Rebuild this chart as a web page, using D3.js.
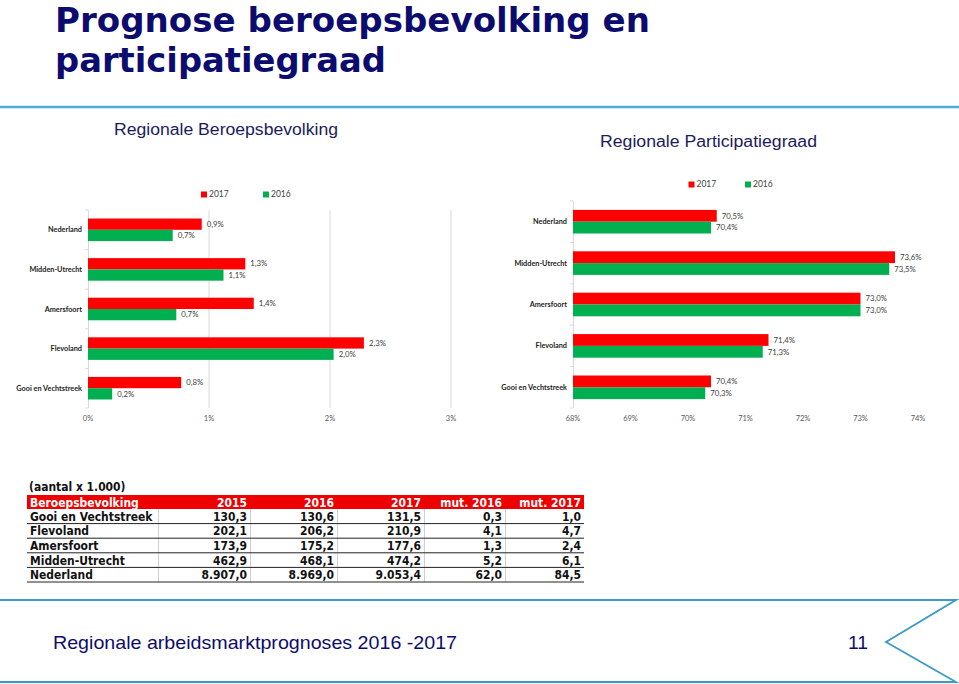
<!DOCTYPE html>
<html><head><meta charset="utf-8">
<script src="https://cdn.jsdelivr.net/npm/d3@7"></script>
<style>
html,body{margin:0;padding:0;background:#fff;}
svg{display:block;}
</style></head>
<body>
<svg id="c" width="959" height="684"></svg>
<script>
// ---------- data ----------
const regions = ["Nederland","Midden-Utrecht","Amersfoort","Flevoland","Gooi en Vechtstreek"];
const seriesNames = ["2017","2016"];
const growth2017 = [0.94, 1.30, 1.37, 2.28, 0.77];
const growth2016 = [0.70, 1.12, 0.73, 2.03, 0.20];
const partic2017 = [70.5, 73.6, 73.0, 71.4, 70.4];
const partic2016 = [70.4, 73.5, 73.0, 71.3, 70.3];
const growthTicks = [0, 1, 2, 3];
const particTicks = [68, 69, 70, 71, 72, 73, 74];

const tableHeader = ["Beroepsbevolking","2015","2016","2017","mut. 2016","mut. 2017"];
const tableRegions = ["Gooi en Vechtstreek","Flevoland","Amersfoort","Midden-Utrecht","Nederland"];
const labour2015 = [130.3, 202.1, 173.9, 462.9, 8907.0];
const labour2016 = [130.6, 206.2, 175.2, 468.1, 8969.0];
const labour2017 = [131.5, 210.9, 177.6, 474.2, 9053.4];
const mut2016 = [0.3, 4.1, 1.3, 5.2, 62.0];
const mut2017 = [1.0, 4.7, 2.4, 6.1, 84.5];

// ---------- setup ----------
const nl = d3.formatLocale({decimal: ",", thousands: ".", grouping: [3], currency: ["€", ""]});
const fmtNum = nl.format(",.1f");
const fmtPct = v => nl.format(".1f")(v) + "%";
const RED = "#ff0000", GREEN = "#00b050", NAVY = "#0c0c6e", BLUE = "#3a9acb";
const colors = {"2017": RED, "2016": GREEN};
const svg = d3.select("#c");

function fit(sel, w) {
  sel.attr("textLength", w).attr("lengthAdjust", "spacingAndGlyphs");
}
function condense(sel, f) {
  sel.each(function() {
    const w = this.getComputedTextLength();
    d3.select(this).attr("textLength", w * f).attr("lengthAdjust", "spacingAndGlyphs");
  });
}

// ---------- title / header ----------
const titleFont = "'DejaVu Sans', Verdana, sans-serif";
svg.append("text").attr("x", 55).attr("y", 32).attr("fill", NAVY)
  .attr("font-family", titleFont).attr("font-weight", "bold").attr("font-size", 34)
  .text("Prognose beroepsbevolking en").call(fit, 595);
svg.append("text").attr("x", 55).attr("y", 72).attr("fill", NAVY)
  .attr("font-family", titleFont).attr("font-weight", "bold").attr("font-size", 34)
  .text("participatiegraad").call(fit, 331);
svg.append("line").attr("x1", 0).attr("x2", 959).attr("y1", 107).attr("y2", 107)
  .attr("stroke", "#4aaed6").attr("stroke-width", 2.5);

const subFont = "'Liberation Sans', Arial, sans-serif";
svg.append("text").attr("x", 114).attr("y", 135).attr("fill", "#1c1c5c")
  .attr("font-family", subFont).attr("font-size", 16)
  .text("Regionale Beroepsbevolking").call(fit, 224);
svg.append("text").attr("x", 600).attr("y", 147).attr("fill", "#1c1c5c")
  .attr("font-family", subFont).attr("font-size", 16)
  .text("Regionale Participatiegraad").call(fit, 217);

// ---------- bar chart helper ----------
const chartFont = "Lato, 'Open Sans', sans-serif";
function barChart(cfg) {
  const g = svg.append("g");
  const x = d3.scaleLinear().domain(cfg.domain).range([cfg.x0, cfg.x1]);
  const y = d3.scaleBand().domain(regions).range([cfg.y0, cfg.y1]).paddingInner(0.43).paddingOuter(0.215);
  const step = y.step();
  const yi = d3.scaleBand().domain(seriesNames).range([0, y.bandwidth()]);
  const data = regions.map((r, i) => ({region: r, "2017": cfg.s17[i], "2016": cfg.s16[i]}));

  if (cfg.grid) {
    g.append("g").selectAll("line").data(cfg.ticks.slice(1)).join("line")
      .attr("x1", d => x(d)).attr("x2", d => x(d))
      .attr("y1", cfg.y0).attr("y2", cfg.y1)
      .attr("stroke", "#d9d9d9").attr("stroke-width", 1);
  }
  g.append("g").selectAll("text").data(cfg.ticks).join("text")
    .attr("x", d => x(d)).attr("y", cfg.y1 + 13)
    .attr("text-anchor", "middle").attr("font-family", chartFont).attr("font-size", 7.5)
    .attr("fill", "#595959").text(d => d + "%");
  g.append("line").attr("x1", cfg.x0 + 0.5).attr("x2", cfg.x0 + 0.5)
    .attr("y1", cfg.y0).attr("y2", cfg.y1).attr("stroke", "#d9d9d9");
  g.append("g").selectAll("line").data(d3.range(regions.length + 1)).join("line")
    .attr("x1", cfg.x0 - 3).attr("x2", cfg.x0)
    .attr("y1", i => cfg.y0 + i * step).attr("y2", i => cfg.y0 + i * step)
    .attr("stroke", "#d9d9d9");
  g.append("g").selectAll("text").data(regions).join("text")
    .attr("x", cfg.x0 - 6).attr("y", d => y(d) + y.bandwidth() / 2)
    .attr("dy", "0.35em").attr("text-anchor", "end")
    .attr("font-family", chartFont).attr("font-weight", "bold").attr("font-size", 7.3)
    .attr("fill", "#222").text(d => d);
  const groups = g.append("g").selectAll("g").data(data).join("g")
    .attr("transform", d => `translate(0,${y(d.region)})`);
  groups.selectAll("rect").data(d => seriesNames.map(k => ({key: k, value: d[k]}))).join("rect")
    .attr("x", x(cfg.domain[0])).attr("y", d => yi(d.key))
    .attr("width", d => x(d.value) - x(cfg.domain[0])).attr("height", yi.bandwidth())
    .attr("fill", d => colors[d.key]);
  groups.selectAll("text").data(d => seriesNames.map(k => ({key: k, value: d[k]}))).join("text")
    .attr("x", d => x(d.value) + 5).attr("y", d => yi(d.key) + yi.bandwidth() / 2)
    .attr("dy", "0.35em").attr("font-family", chartFont).attr("font-size", 7.8)
    .attr("fill", "#404040").text(d => fmtPct(d.value));
  const lg = g.append("g").attr("transform", `translate(${cfg.legendX},${cfg.legendY})`);
  seriesNames.forEach((k, i) => {
    const item = lg.append("g").attr("transform", `translate(${i * cfg.legendGap},0)`);
    item.append("rect").attr("x", 0).attr("y", -3).attr("width", 6).attr("height", 6).attr("fill", colors[k]);
    item.append("text").attr("x", 8).attr("y", 0).attr("dy", "0.35em")
      .attr("font-family", chartFont).attr("font-size", 8.5).attr("fill", "#404040").text(k);
  });
}

barChart({domain: [0, 3], ticks: growthTicks, x0: 88, x1: 451, y0: 210, y1: 408,
  s17: growth2017, s16: growth2016, grid: true, legendX: 201, legendY: 194.5, legendGap: 62});
barChart({domain: [68, 74], ticks: particTicks, x0: 573, x1: 918, y0: 201, y1: 408,
  s17: partic2017, s16: partic2016, grid: false, legendX: 688.5, legendY: 184.5, legendGap: 56.5});

// ---------- table ----------
const tblFont = "'DejaVu Sans', Verdana, sans-serif";
const tblSize = 12.5, tblCond = 0.86;
const colEdges = [27, 158, 250, 337, 424, 505, 584];
const headerTop = 495, headerH = 14, rowH = 14.6;
const tg = svg.append("g");
tg.append("text").attr("x", 29).attr("y", 491).attr("font-family", tblFont)
  .attr("font-weight", "bold").attr("font-size", tblSize).attr("fill", "#111")
  .text("(aantal x 1.000)").call(condense, tblCond);
tg.append("rect").attr("x", colEdges[0]).attr("y", headerTop).attr("width", colEdges[6] - colEdges[0])
  .attr("height", headerH).attr("fill", "#ee0000");
tg.selectAll("text.h").data(tableHeader).join("text").attr("class", "h")
  .attr("x", (d, i) => i === 0 ? colEdges[0] + 3 : colEdges[i + 1] - 3)
  .attr("y", headerTop + headerH / 2).attr("dy", "0.36em")
  .attr("text-anchor", (d, i) => i === 0 ? "start" : "end")
  .attr("font-family", tblFont).attr("font-weight", "bold").attr("font-size", tblSize)
  .attr("fill", "#fff").text(d => d).call(condense, tblCond);
const rows = tableRegions.map((r, i) => [r, fmtNum(labour2015[i]), fmtNum(labour2016[i]), fmtNum(labour2017[i]), fmtNum(mut2016[i]), fmtNum(mut2017[i])]);
const bodyTop = headerTop + headerH;
tg.selectAll("line.v").data(colEdges.slice(1, 6)).join("line").attr("class", "v")
  .attr("x1", d => d + 0.5).attr("x2", d => d + 0.5)
  .attr("y1", bodyTop).attr("y2", bodyTop + rowH * rows.length)
  .attr("stroke", "#cfcfcf");
rows.forEach((row, ri) => {
  const yTop = bodyTop + ri * rowH;
  tg.append("line").attr("x1", colEdges[0]).attr("x2", colEdges[6])
    .attr("y1", yTop + rowH).attr("y2", yTop + rowH).attr("stroke", "#222").attr("stroke-width", 1);
  tg.append("g").selectAll("text").data(row).join("text")
    .attr("x", (d, i) => i === 0 ? colEdges[0] + 3 : colEdges[i + 1] - 3)
    .attr("y", yTop + rowH / 2).attr("dy", "0.36em")
    .attr("text-anchor", (d, i) => i === 0 ? "start" : "end")
    .attr("font-family", tblFont).attr("font-weight", "bold").attr("font-size", tblSize)
    .attr("fill", "#111").text(d => d).call(condense, tblCond);
});

// ---------- footer ----------
svg.append("path")
  .attr("d", d3.line()([[0, 600], [956, 600], [886, 642], [956, 682], [0, 682]]))
  .attr("fill", "none").attr("stroke", BLUE).attr("stroke-width", 1.8);
svg.append("text").attr("x", 53).attr("y", 649).attr("fill", NAVY)
  .attr("font-family", subFont).attr("font-size", 19)
  .text("Regionale arbeidsmarktprognoses 2016 -2017").call(fit, 404);
svg.append("text").attr("x", 848).attr("y", 649).attr("fill", NAVY)
  .attr("font-family", subFont).attr("font-size", 19).text("11").call(fit, 20);
</script>
</body></html>
